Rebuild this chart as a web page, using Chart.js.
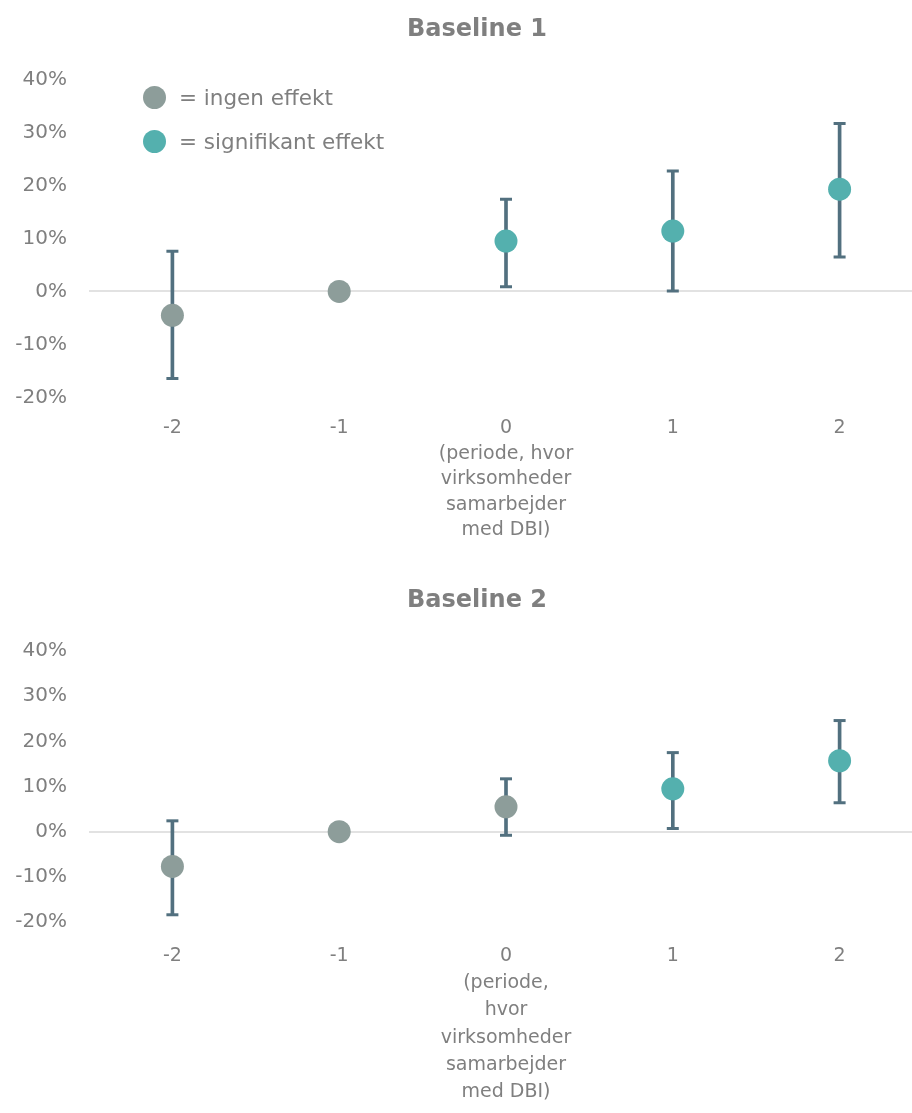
<!DOCTYPE html>
<html>
<head>
<meta charset="utf-8">
<script src="https://cdn.jsdelivr.net/npm/chart.js@4.4.0/dist/chart.umd.min.js"></script>
<style>
  html, body { margin: 0; padding: 0; background: #fff; width: 912px; height: 1113px; overflow: hidden; }
  .panel { position: absolute; left: 0; }
  #panel1 { top: 0; }
  #panel2 { top: 560px; }
  .key { position: absolute; left: 143px; font-family: "DejaVu Sans", sans-serif; font-size: 21.5px; color: #7f7f7f; }
  .key div { display: flex; align-items: center; height: 23px; margin-bottom: 20.5px; white-space: nowrap; }
  .key span.dot { display: inline-block; width: 23px; height: 23px; border-radius: 50%; margin-right: 13px; }
</style>
</head>
<body>
<div class="panel" id="panel1"><canvas id="chart1" width="954" height="560"></canvas></div>
<div class="panel" id="panel2"><canvas id="chart2" width="954" height="553"></canvas></div>
<div class="key" style="top:86px">
  <div><span class="dot" style="background:#8d9d9a"></span>= ingen effekt</div>
  <div><span class="dot" style="background:#54b0ae"></span>= signifikant effekt</div>
</div>
<script>
// Periods relative to the start of the DBI collaboration
const periods = [-2, -1, 0, 1, 2];
const tickLabels1 = ['-2', '-1', ['0', '(periode, hvor', 'virksomheder', 'samarbejder', 'med DBI)'], '1', '2'];
const tickLabels2 = ['-2', '-1', ['0', '(periode,', 'hvor', 'virksomheder', 'samarbejder', 'med DBI)'], '1', '2'];

// Baseline 1: estimates and confidence bounds (percent)
const estimate1 = [-4.5, 0, 9.5, 11.4, 19.3];
const lower1 = [-16.4, null, 0.9, 0.1, 6.5];
const upper1 = [7.6, null, 17.4, 22.7, 31.7];
const significant1 = [false, false, true, true, true];

// Baseline 2: estimates and confidence bounds (percent)
const estimate2 = [-7.7, 0, 5.5, 9.5, 15.7];
const lower2 = [-18.4, null, -0.8, 0.7, 6.4];
const upper2 = [2.4, null, 11.7, 17.5, 24.6];
const significant2 = [false, false, false, true, true];

// Y axis range and step (percent)
const yMin = -20, yMax = 40, yStep = 10;

const TEXT = '#7f7f7f';
const GREY = '#8d9d9a';
const TEAL = '#54b0ae';
const WHISKER = '#52707f';
const FONT = '"DejaVu Sans", sans-serif';

function buildChart(id, cfg) {
  const whiskers = cfg.lower.map((l, i) => (l == null ? null : [l, cfg.upper[i]]));
  const cap = data => ({
    type: 'line',
    data: data,
    showLine: false,
    pointStyle: 'line',
    pointRadius: 6,
    pointBorderWidth: 3,
    pointBorderColor: WHISKER,
    order: 2
  });
  return new Chart(document.getElementById(id), {
    type: 'bar',
    data: {
      labels: cfg.labels,
      datasets: [
        { type: 'bar', data: whiskers, backgroundColor: WHISKER, barThickness: 3, order: 3 },
        cap(cfg.upper),
        cap(cfg.lower),
        {
          type: 'line',
          data: cfg.estimate,
          showLine: false,
          pointRadius: 11.5,
          pointBorderWidth: 0,
          pointBackgroundColor: cfg.significant.map(s => (s ? TEAL : GREY)),
          order: 0
        }
      ]
    },
    options: {
      responsive: false,
      animation: false,
      events: [],
      layout: { padding: 0 },
      plugins: {
        legend: { display: false },
        tooltip: { enabled: false },
        title: {
          display: true,
          text: cfg.title,
          color: TEXT,
          font: { family: FONT, size: 24, weight: 'bold', lineHeight: 1.2 },
          padding: cfg.titlePadding
        }
      },
      scales: {
        x: {
          type: 'category',
          offset: true,
          grid: { display: false, drawTicks: false },
          border: { display: false },
          ticks: {
            color: TEXT,
            font: { family: FONT, size: 19, lineHeight: cfg.xLineHeight },
            padding: cfg.xPadding,
            maxRotation: 0,
            autoSkip: false
          },
          afterFit: s => { s.height = cfg.xHeight; }
        },
        y: {
          min: yMin,
          max: yMax,
          grid: {
            drawTicks: false,
            lineWidth: 2,
            color: c => (c.tick && c.tick.value === 0 ? '#e2e2e2' : 'rgba(0,0,0,0)')
          },
          border: { display: false },
          ticks: {
            stepSize: yStep,
            color: TEXT,
            font: { family: FONT, size: 20 },
            padding: 22,
            callback: v => v + '%'
          },
          afterFit: s => { s.width = 89; }
        },
        // empty right-hand margin so the title centres over the whole figure
        yRight: {
          type: 'linear',
          position: 'right',
          grid: { display: false, drawTicks: false },
          border: { display: false },
          ticks: { display: false },
          afterFit: s => { s.width = 31; }
        }
      }
    }
  });
}

buildChart('chart1', {
  title: 'Baseline 1',
  labels: tickLabels1,
  estimate: estimate1, lower: lower1, upper: upper1, significant: significant1,
  titlePadding: { top: 15.6, bottom: 35 },
  xHeight: 162.5, xPadding: 18.25, xLineHeight: 25.5 / 19
});

buildChart('chart2', {
  title: 'Baseline 2',
  labels: tickLabels2,
  estimate: estimate2, lower: lower2, upper: upper2, significant: significant2,
  titlePadding: { top: 26.6, bottom: 35.6 },
  xHeight: 191, xPadding: 20.3, xLineHeight: 27.3 / 19
});
</script>
</body>
</html>
